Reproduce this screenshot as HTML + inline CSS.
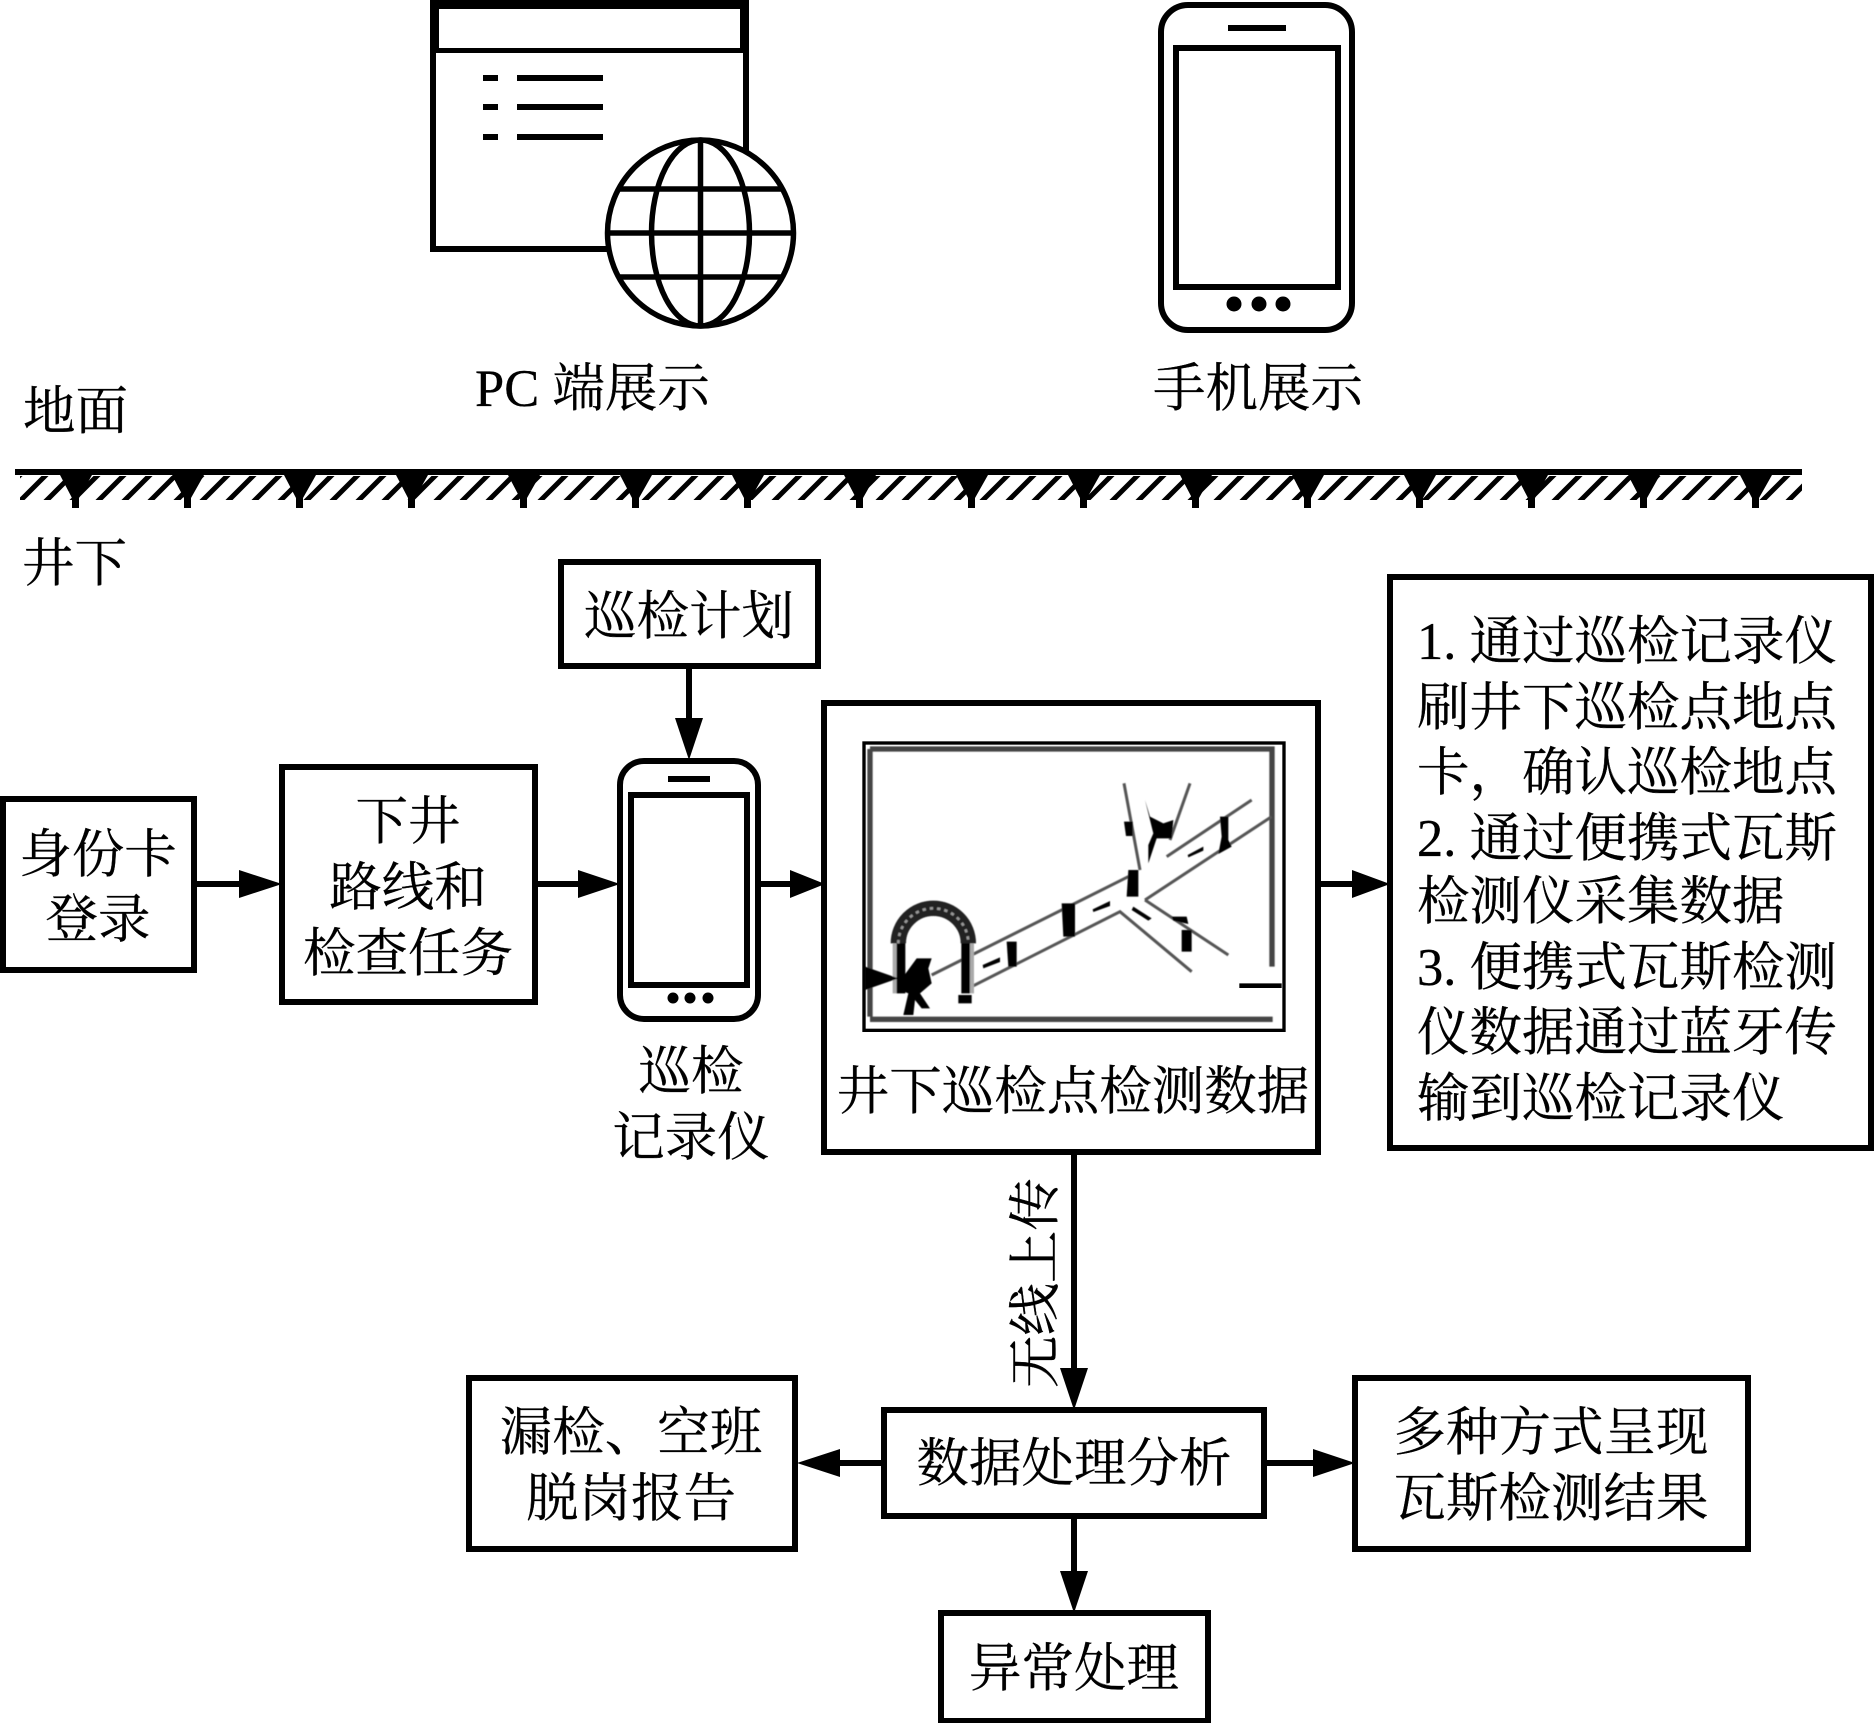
<!DOCTYPE html>
<html><head><meta charset="utf-8"><style>
html,body{margin:0;padding:0;background:#fff}
svg{display:block}
text{font-family:"Liberation Serif","Noto Serif CJK SC",serif;font-size:52.5px;fill:#000;stroke:#000;stroke-width:.3}
.m{text-anchor:middle}
.b{fill:#fff;stroke:#000;stroke-width:6}
</style></head><body>
<svg width="1875" height="1723" viewBox="0 0 1875 1723" xmlns="http://www.w3.org/2000/svg">
<defs>
<pattern id="h" x="15" y="476" width="26" height="26" patternUnits="userSpaceOnUse">
<path d="M-5 9 L9 -5 M-5 35 L35 -5" stroke="#000" stroke-width="5" fill="none"/>
</pattern>
<filter id="s" x="-5%" y="-5%" width="110%" height="110%"><feGaussianBlur stdDeviation="1.6"/></filter>
</defs>
<rect width="1875" height="1723" fill="#fff"/>

<!-- PC window -->
<rect x="433" y="3" width="313" height="246" fill="#fff" stroke="#000" stroke-width="6"/>
<rect x="430" y="0" width="319" height="9"/>
<rect x="430" y="0" width="9" height="53"/>
<rect x="740" y="0" width="9" height="53"/>
<rect x="430" y="48" width="319" height="5"/>
<rect x="483" y="75" width="15" height="6"/><rect x="517" y="75" width="86" height="6"/>
<rect x="483" y="104" width="15" height="6"/><rect x="517" y="104" width="86" height="6"/>
<rect x="483" y="134" width="15" height="6"/><rect x="517" y="134" width="86" height="6"/>
<g fill="none" stroke="#000" stroke-width="5.5">
<circle cx="700.5" cy="233" r="93" fill="#fff"/>
<ellipse cx="700.5" cy="233" rx="49" ry="93"/>
<path d="M700.5 140V326M607 233H794M620 189H781M620 277H781"/>
</g>

<!-- big phone -->
<rect x="1161" y="5" width="191" height="325" rx="27" fill="#fff" stroke="#000" stroke-width="6"/>
<rect x="1176" y="48" width="162" height="239" fill="#fff" stroke="#000" stroke-width="6"/>
<rect x="1228" y="25" width="58" height="6"/>
<circle cx="1234" cy="304" r="7.5"/><circle cx="1259" cy="304" r="7.5"/><circle cx="1283" cy="304" r="7.5"/>

<!-- ground -->
<rect x="15" y="469" width="1787" height="6"/>
<rect x="20" y="476" width="1782" height="24" fill="url(#h)"/>
<g>
<path d="M60 475H92L79 498V508H72V498Z"/>
<path d="M172 475H204L191 498V508H184V498Z"/>
<path d="M284 475H316L303 498V508H296V498Z"/>
<path d="M396 475H428L415 498V508H408V498Z"/>
<path d="M508 475H540L527 498V508H520V498Z"/>
<path d="M620 475H652L639 498V508H632V498Z"/>
<path d="M732 475H764L751 498V508H744V498Z"/>
<path d="M844 475H876L863 498V508H856V498Z"/>
<path d="M956 475H988L975 498V508H968V498Z"/>
<path d="M1068 475H1100L1087 498V508H1080V498Z"/>
<path d="M1180 475H1212L1199 498V508H1192V498Z"/>
<path d="M1292 475H1324L1311 498V508H1304V498Z"/>
<path d="M1404 475H1436L1423 498V508H1416V498Z"/>
<path d="M1516 475H1548L1535 498V508H1528V498Z"/>
<path d="M1628 475H1660L1647 498V508H1640V498Z"/>
<path d="M1740 475H1772L1759 498V508H1752V498Z"/>
</g>

<!-- connectors -->
<g stroke="#000" stroke-width="6" fill="none">
<path d="M196 884H250M535 884H590M760 884H795M1318 884H1360"/>
<path d="M689 666V725M1074 1154V1375M1074 1516V1580"/>
<path d="M884 1463H830M1264 1463H1320"/>
</g>
<path d="M239 870L282 884L239 898Z"/>
<path d="M578 870L620 884L578 898Z"/>
<path d="M790 870L825 884L790 898Z"/>
<path d="M1352 870L1390 884L1352 898Z"/>
<path d="M675 718L689 760L703 718Z"/>
<path d="M1060 1368L1074 1410L1088 1368Z"/>
<path d="M1060 1571L1074 1613L1088 1571Z"/>
<path d="M840 1449L797 1463L840 1477Z"/>
<path d="M1313 1449L1355 1463L1313 1477Z"/>

<!-- boxes -->
<rect class="b" x="3" y="799" width="191" height="171"/>
<rect class="b" x="282" y="767" width="253" height="235"/>
<rect class="b" x="561" y="562" width="257" height="104"/>
<rect class="b" x="824" y="703" width="494" height="449"/>
<rect class="b" x="1390" y="577" width="481" height="571"/>
<rect class="b" x="884" y="1410" width="380" height="106"/>
<rect class="b" x="469" y="1378" width="326" height="171"/>
<rect class="b" x="1355" y="1378" width="393" height="171"/>
<rect class="b" x="941" y="1613" width="267" height="108"/>

<!-- small phone -->
<rect x="620" y="761" width="138" height="258" rx="24" fill="#fff" stroke="#000" stroke-width="6"/>
<rect x="631" y="795" width="116" height="190" fill="#fff" stroke="#000" stroke-width="6"/>
<rect x="668" y="776" width="42" height="6"/>
<circle cx="673" cy="998" r="5.5"/><circle cx="690" cy="998" r="5.5"/><circle cx="708" cy="998" r="5.5"/>

<!-- mine illustration -->
<g transform="translate(820 700) scale(.33333)" fill="none">
<rect x="132" y="129" width="1260" height="862" stroke="#000" stroke-width="10"/>
<g filter="url(#s)">
<path d="M150 147H1356V800M150 147V950M150 958H1358" stroke="#444" stroke-width="16"/>
<g stroke="#555" stroke-width="9">
<path d="M335 825L945 520M445 865L900 635L1115 815M975 600L1225 765M975 600L1355 350M1040 470L1295 300M912 250L960 510M1110 250L1050 420"/>
</g>
<path d="M225 730V880M455 730V880" stroke="#aaa" stroke-width="14"/>
<path d="M243 880V730A97 97 0 0 1 437 730V880" stroke="#000" stroke-width="26"/>
<path d="M235 730A105 105 0 0 1 445 730" stroke="#222" stroke-width="46"/>
<path d="M235 730A105 105 0 0 1 445 730" stroke="#999" stroke-width="8" stroke-dasharray="10 12"/>
<g fill="#000" stroke="none">
<path d="M135 800L235 835L135 870Z"/>
<path d="M290 775H335L325 805L335 850L300 880L330 925H305L285 900L280 945H250L265 880L240 870L250 830Z"/>
<path d="M415 885H455V910H415Z"/>
<path d="M560 725H590V800H565Z"/>
<path d="M725 610H765V710H730Z"/>
<path d="M925 510H955V590H920Z"/>
<path d="M1085 690H1115V755H1085Z"/>
<path d="M1055 650H1100L1105 672L1060 662Z"/>
<path d="M912 365H938V408H918Z"/>
<path d="M975 300L990 350L1030 370L1060 360L1055 415H1010L985 490V435L1000 400Z"/>
<path d="M1200 350H1225V420L1235 440L1195 462L1205 410Z"/>
<path d="M488 795L540 772V786L490 805Z"/>
<path d="M818 628L870 603V618L820 636Z"/>
<path d="M1103 465L1150 440V452L1105 472Z"/>
<path d="M940 620L995 655L985 662L935 630Z"/>
</g>
</g>
<path d="M1258 857H1385" stroke="#000" stroke-width="14"/>
</g>

<!-- labels -->
<text x="475" y="406">PC 端展示</text>
<text x="1258" y="406" class="m">手机展示</text>
<text x="23" y="429">地面</text>
<text x="22" y="581">井下</text>
<text class="m" x="98" y="872">身份卡</text>
<text class="m" x="98" y="937">登录</text>
<text class="m" x="408" y="839">下井</text>
<text class="m" x="408" y="905">路线和</text>
<text class="m" x="408" y="971">检查任务</text>
<text class="m" x="689" y="634">巡检计划</text>
<text class="m" x="691" y="1089">巡检</text>
<text class="m" x="691" y="1155">记录仪</text>
<text class="m" x="1073" y="1109">井下巡检点检测数据</text>
<text class="m" transform="translate(1053 1283) rotate(-90)">无线上传</text>
<text class="m" x="1074" y="1481">数据处理分析</text>
<text class="m" x="631" y="1450">漏检、空班</text>
<text class="m" x="631" y="1516">脱岗报告</text>
<text class="m" x="1551" y="1450">多种方式呈现</text>
<text class="m" x="1551" y="1516">瓦斯检测结果</text>
<text class="m" x="1074" y="1686">异常处理</text>
<text x="1417" y="659" textLength="420" lengthAdjust="spacing">1. 通过巡检记录仪</text>
<text x="1417" y="725" textLength="420" lengthAdjust="spacing">刷井下巡检点地点</text>
<text x="1417" y="790" textLength="420" lengthAdjust="spacing">卡，确认巡检地点</text>
<text x="1417" y="856" textLength="420" lengthAdjust="spacing">2. 通过便携式瓦斯</text>
<text x="1417" y="919">检测仪采集数据</text>
<text x="1417" y="985" textLength="420" lengthAdjust="spacing">3. 便携式瓦斯检测</text>
<text x="1417" y="1050" textLength="420" lengthAdjust="spacing">仪数据通过蓝牙传</text>
<text x="1417" y="1116">输到巡检记录仪</text>
</svg>
</body></html>
